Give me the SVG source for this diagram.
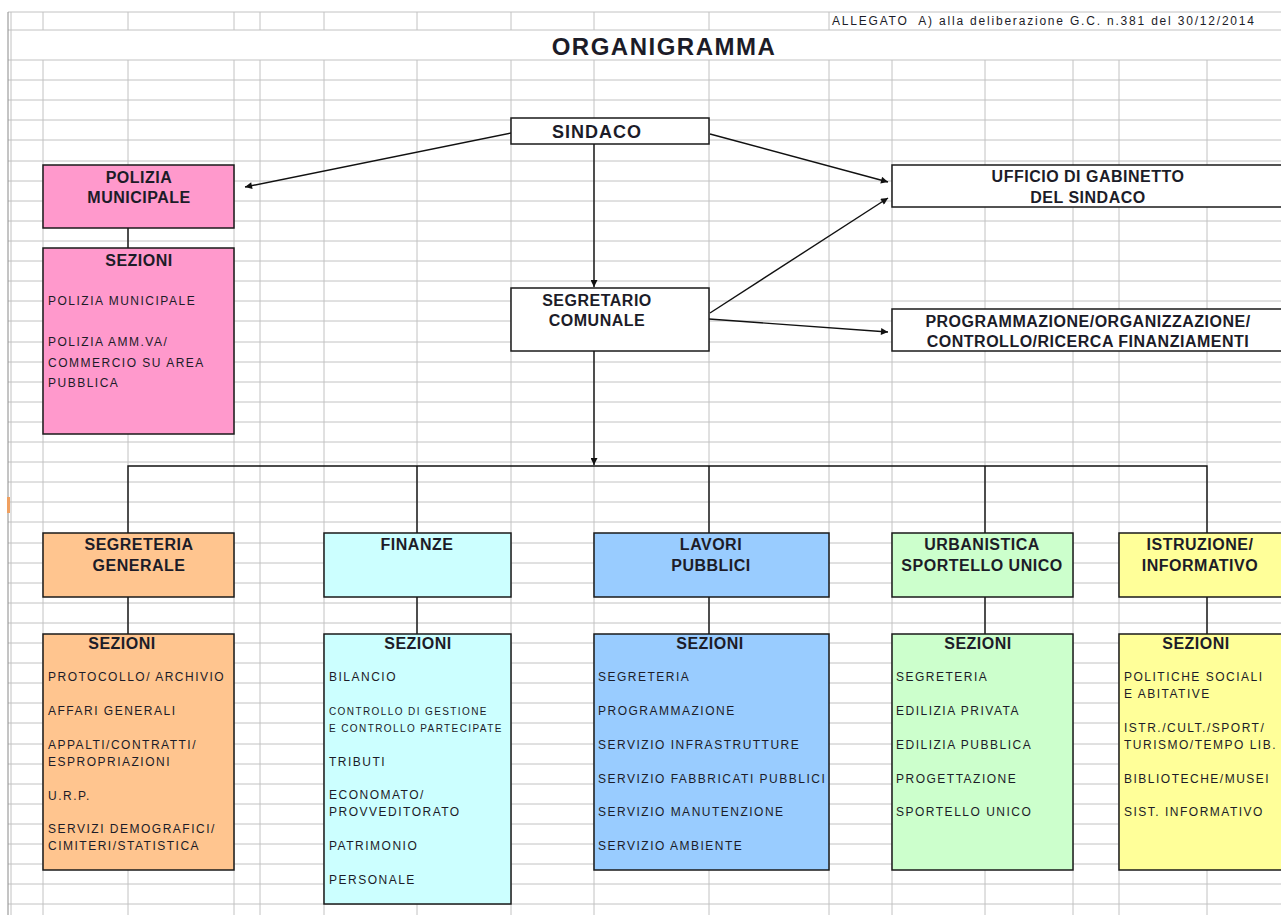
<svg xmlns="http://www.w3.org/2000/svg" width="1281" height="915" viewBox="0 0 1281 915">
<defs>
<style>
.grid{stroke:#c2c2c2;stroke-width:1;fill:none}
.box{stroke:#1a1a1a;stroke-width:1.5}
.conn{stroke:#111;stroke-width:1.4;fill:none}
.t{font-family:"Liberation Sans",Arial,sans-serif;fill:#1c1c28}
.h{font-weight:bold;font-size:16px;letter-spacing:0.5px;text-anchor:middle}
.i{font-size:12px;letter-spacing:1.5px}
.s{font-size:10px;letter-spacing:1.4px}
</style>
<marker id="ah" viewBox="0 0 10 10" refX="10" refY="5" markerWidth="8" markerHeight="7" markerUnits="userSpaceOnUse" orient="auto">
<path d="M0,0 L10,5 L0,10 z" fill="#111"/>
</marker>
</defs>
<rect width="1281" height="915" fill="#fff"/>
<g id="grid" class="grid">
<path d="M8,12H1281M8,30H1281M8,60H1281M8,80H1281M8,100H1281M8,120H1281M8,140H1281M8,161H1281M8,181H1281M8,201H1281M8,221H1281M8,241H1281M8,261H1281M8,281H1281M8,301H1281M8,321H1281M8,342H1281M8,362H1281M8,382H1281M8,402H1281M8,422H1281M8,442H1281M8,462H1281M8,482H1281M8,502H1281M8,522H1281M8,543H1281M8,563H1281M8,583H1281M8,603H1281M8,623H1281M8,643H1281M8,663H1281M8,683H1281M8,703H1281M8,723H1281M8,744H1281M8,764H1281M8,784H1281M8,804H1281M8,824H1281M8,844H1281M8,864H1281M8,884H1281M8,904H1281"/>
<path d="M43,12V30M128,12V30M234,12V30M260,12V30M324,12V30M417,12V30M511,12V30M594,12V30M709,12V30M829,12V30"/>
<path d="M43,60V915M128,60V915M234,60V915M260,60V915M324,60V915M417,60V915M511,60V915M594,60V915M709,60V915M829,60V915M892,60V915M985,60V915M1073,60V915M1119,60V915M1207,60V915"/>
<path d="M8,12V915" stroke="#8a8a8a"/>
<path d="M11,12V915"/>
</g>
<rect x="7" y="497" width="3" height="16" fill="#f0a060"/>
<g id="header">
<text class="t" x="832" y="25" font-size="12" textLength="422" xml:space="preserve">ALLEGATO  A) alla deliberazione G.C. n.381 del 30/12/2014</text>
<text class="t" x="664" y="55" font-size="24" font-weight="bold" letter-spacing="1.5" text-anchor="middle">ORGANIGRAMMA</text>
</g>
<g id="connectors">
<path class="conn" d="M511,133L245,187" marker-end="url(#ah)"/>
<path class="conn" d="M710,134L888,182" marker-end="url(#ah)"/>
<path class="conn" d="M594,144V287" marker-end="url(#ah)"/>
<path class="conn" d="M710,313L888,198" marker-end="url(#ah)"/>
<path class="conn" d="M709,319L888,332" marker-end="url(#ah)"/>
<path class="conn" d="M594,351V465" marker-end="url(#ah)"/>
<path class="conn" d="M128,533V466H1207V533M417,466V533M709,466V533M985,466V533"/>
<path class="conn" d="M128,228V248M128,597V634M417,597V634M709,597V634M985,597V634M1207,597V634"/>
</g>
<g id="sindaco">
<rect class="box" x="511" y="118" width="198" height="26" fill="#fff"/>
<text class="t" x="597" y="138" font-size="18" font-weight="bold" letter-spacing="1" text-anchor="middle">SINDACO</text>
</g>
<g id="polizia">
<rect class="box" x="43" y="165" width="191" height="63" fill="#ff99cc"/>
<text class="t h" x="139" y="183">POLIZIA</text>
<text class="t h" x="139" y="203">MUNICIPALE</text>
</g>
<g id="polizia-sezioni">
<rect class="box" x="43" y="248" width="191" height="186" fill="#ff99cc"/>
<text class="t h" x="139" y="266">SEZIONI</text>
<text class="t i" x="48" y="305">POLIZIA MUNICIPALE</text>
<text class="t i" x="48" y="346">POLIZIA AMM.VA/</text>
<text class="t i" x="48" y="367">COMMERCIO SU AREA</text>
<text class="t i" x="48" y="387">PUBBLICA</text>
</g>
<g id="segretario">
<rect class="box" x="511" y="288" width="198" height="63" fill="#fff"/>
<text class="t h" x="597" y="306">SEGRETARIO</text>
<text class="t h" x="597" y="326">COMUNALE</text>
</g>
<g id="gabinetto">
<rect class="box" x="892" y="165" width="400" height="42" fill="#fff"/>
<text class="t h" x="1088" y="182">UFFICIO DI GABINETTO</text>
<text class="t h" x="1088" y="203">DEL SINDACO</text>
</g>
<g id="programmazione">
<rect class="box" x="892" y="309" width="400" height="42" fill="#fff"/>
<text class="t h" x="1088" y="327">PROGRAMMAZIONE/ORGANIZZAZIONE/</text>
<text class="t h" x="1088" y="347">CONTROLLO/RICERCA FINANZIAMENTI</text>
</g>
<g id="segreteria">
<rect class="box" x="43" y="533" width="191" height="64" fill="#ffc58f"/>
<text class="t h" x="139" y="550">SEGRETERIA</text>
<text class="t h" x="139" y="571">GENERALE</text>
</g>
<g id="segreteria-sezioni">
<rect class="box" x="43" y="634" width="191" height="236" fill="#ffc58f"/>
<text class="t h" x="122" y="649">SEZIONI</text>
<text class="t i" x="48" y="681">PROTOCOLLO/ ARCHIVIO</text>
<text class="t i" x="48" y="715">AFFARI GENERALI</text>
<text class="t i" x="48" y="749">APPALTI/CONTRATTI/</text>
<text class="t i" x="48" y="766">ESPROPRIAZIONI</text>
<text class="t i" x="48" y="800">U.R.P.</text>
<text class="t i" x="48" y="833">SERVIZI DEMOGRAFICI/</text>
<text class="t i" x="48" y="850">CIMITERI/STATISTICA</text>
</g>
<g id="finanze">
<rect class="box" x="324" y="533" width="187" height="64" fill="#ccffff"/>
<text class="t h" x="417" y="550">FINANZE</text>
</g>
<g id="finanze-sezioni">
<rect class="box" x="324" y="634" width="187" height="270" fill="#ccffff"/>
<text class="t h" x="418" y="649">SEZIONI</text>
<text class="t i" x="329" y="681">BILANCIO</text>
<text class="t s" x="329" y="715">CONTROLLO DI GESTIONE</text>
<text class="t s" x="329" y="732">E CONTROLLO PARTECIPATE</text>
<text class="t i" x="329" y="766">TRIBUTI</text>
<text class="t i" x="329" y="799">ECONOMATO/</text>
<text class="t i" x="329" y="816">PROVVEDITORATO</text>
<text class="t i" x="329" y="850">PATRIMONIO</text>
<text class="t i" x="329" y="884">PERSONALE</text>
</g>
<g id="lavori">
<rect class="box" x="594" y="533" width="235" height="64" fill="#99ccff"/>
<text class="t h" x="711" y="550">LAVORI</text>
<text class="t h" x="711" y="571">PUBBLICI</text>
</g>
<g id="lavori-sezioni">
<rect class="box" x="594" y="634" width="235" height="236" fill="#99ccff"/>
<text class="t h" x="710" y="649">SEZIONI</text>
<text class="t i" x="598" y="681">SEGRETERIA</text>
<text class="t i" x="598" y="715">PROGRAMMAZIONE</text>
<text class="t i" x="598" y="749">SERVIZIO INFRASTRUTTURE</text>
<text class="t i" x="598" y="783">SERVIZIO FABBRICATI PUBBLICI</text>
<text class="t i" x="598" y="816">SERVIZIO MANUTENZIONE</text>
<text class="t i" x="598" y="850">SERVIZIO AMBIENTE</text>
</g>
<g id="urbanistica">
<rect class="box" x="892" y="533" width="181" height="64" fill="#ccffcc"/>
<text class="t h" x="982" y="550">URBANISTICA</text>
<text class="t h" x="982" y="571">SPORTELLO UNICO</text>
</g>
<g id="urbanistica-sezioni">
<rect class="box" x="892" y="634" width="181" height="236" fill="#ccffcc"/>
<text class="t h" x="978" y="649">SEZIONI</text>
<text class="t i" x="896" y="681">SEGRETERIA</text>
<text class="t i" x="896" y="715">EDILIZIA PRIVATA</text>
<text class="t i" x="896" y="749">EDILIZIA PUBBLICA</text>
<text class="t i" x="896" y="783">PROGETTAZIONE</text>
<text class="t i" x="896" y="816">SPORTELLO UNICO</text>
</g>
<g id="istruzione">
<rect class="box" x="1119" y="533" width="180" height="64" fill="#ffff99"/>
<text class="t h" x="1200" y="550">ISTRUZIONE/</text>
<text class="t h" x="1200" y="571">INFORMATIVO</text>
</g>
<g id="istruzione-sezioni">
<rect class="box" x="1119" y="634" width="180" height="236" fill="#ffff99"/>
<text class="t h" x="1196" y="649">SEZIONI</text>
<text class="t i" x="1124" y="681">POLITICHE SOCIALI</text>
<text class="t i" x="1124" y="698">E ABITATIVE</text>
<text class="t i" x="1124" y="732">ISTR./CULT./SPORT/</text>
<text class="t i" x="1124" y="749">TURISMO/TEMPO LIB.</text>
<text class="t i" x="1124" y="783">BIBLIOTECHE/MUSEI</text>
<text class="t i" x="1124" y="816">SIST. INFORMATIVO</text>
</g>
</svg>
